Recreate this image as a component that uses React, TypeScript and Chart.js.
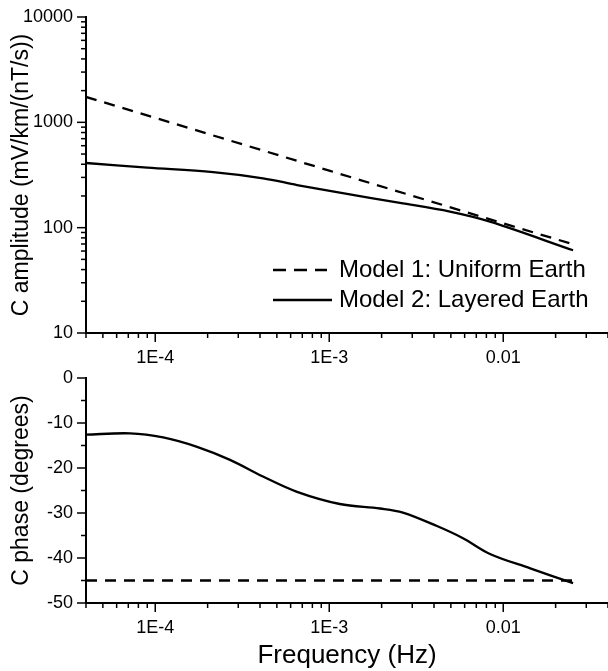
import React, { useEffect, useRef } from 'react';
import { Chart, registerables } from 'chart.js';

Chart.register(...registerables);

const FONT = '"Liberation Sans", Arial, Helvetica, sans-serif';

// ---- Data ----
const uniformFreq = [4e-5, 1e-4, 1e-3, 1e-2, 0.0252];
const uniformAmp = [1742, 1102, 348, 110, 69.5];

const layeredAmpFreq = [4e-5, 9e-5, 2.15e-4, 4.16e-4, 6.53e-4, 1.15e-3, 2.55e-3, 4.94e-3, 8.39e-3, 0.0252];
const layeredAmp = [411, 372, 336, 294, 254, 215, 172, 142, 114, 61];

const uniformPhaseFreq = [4e-5, 0.0252];
const uniformPhase = [-45, -45];

const layeredPhaseFreq = [4e-5, 7.16e-5, 1.11e-4, 1.74e-4, 2.69e-4, 4.16e-4, 6.53e-4, 1.15e-3, 1.96e-3, 2.65e-3, 4.16e-3, 5.87e-3, 8.39e-3, 1.43e-2, 0.0252];
const layeredPhase = [-12.6, -12.3, -13.2, -15.3, -18.2, -21.9, -25.3, -28.0, -29.0, -29.9, -32.9, -35.6, -39.1, -42.3, -45.6];

const seriesLabels = ['Model 1: Uniform Earth', 'Model 2: Layered Earth'];

// ---- Axis ticks ----
const freqMajorTicks = [1e-4, 1e-3, 1e-2];
const freqTickLabels = ['1E-4', '1E-3', '0.01'];
const freqDecades = [1e-5, 1e-4, 1e-3, 1e-2];
const freqMin = 4e-5;
const freqMax = 0.04;

const ampMajorTicks = [10, 100, 1000, 10000];
const ampTickLabels = ['10', '100', '1000', '10000'];
const ampDecades = [10, 100, 1000];

const phaseMajorTicks = [0, -10, -20, -30, -40, -50];
const phaseTickLabels = ['0', '-10', '-20', '-30', '-40', '-50'];
const phaseMinorTicks = [-5, -15, -25, -35, -45];

const near = (a: number, b: number) => Math.abs(a - b) <= Math.abs(b) * 1e-6 + 1e-12;

function logTicks(decades: number[], min: number, max: number) {
  const out: number[] = [];
  decades.forEach((d) => {
    for (let m = 1; m <= 9; m++) {
      const v = d * m;
      if (v >= min * (1 - 1e-9) && v <= max * (1 + 1e-9)) out.push(v);
    }
  });
  if (!out.some((v) => near(v, max))) out.push(max);
  return out;
}

function labelFor(value: number, majors: number[], labels: string[]) {
  const i = majors.findIndex((m) => near(value, m));
  return i >= 0 ? labels[i] : '';
}

function pts(xs: number[], ys: number[]) {
  return xs.map((x, i) => ({ x, y: ys[i] }));
}

const tickMarksPlugin = {
  id: 'tickMarks',
  afterDraw(chart: any) {
    const ctx = chart.ctx;
    const area = chart.chartArea;
    ctx.save();
    ctx.strokeStyle = '#000';
    ctx.lineWidth = 1.5;
    ['x', 'y'].forEach((id) => {
      const s = chart.scales[id];
      const majors: number[] = s.options.majorValues || [];
      s.ticks.forEach((t: any) => {
        const isMajor = majors.some((m) => near(t.value, m));
        const len = isMajor ? 9 : 5;
        const p = s.getPixelForValue(t.value);
        ctx.beginPath();
        if (s.isHorizontal()) {
          ctx.moveTo(p, area.bottom);
          ctx.lineTo(p, area.bottom + len);
        } else {
          ctx.moveTo(area.left, p);
          ctx.lineTo(area.left - len, p);
        }
        ctx.stroke();
      });
    });
    ctx.restore();
  },
};

const legendPlugin = {
  id: 'innerLegend',
  afterDraw(chart: any) {
    const ctx = chart.ctx;
    ctx.save();
    ctx.font = `24px ${FONT}`;
    ctx.fillStyle = '#000';
    ctx.textBaseline = 'middle';
    ctx.textAlign = 'left';
    const rows = [270, 300];
    chart.data.datasets.forEach((ds: any, i: number) => {
      const y = rows[i];
      ctx.beginPath();
      ctx.strokeStyle = ds.borderColor;
      ctx.lineWidth = ds.borderWidth;
      ctx.setLineDash(ds.borderDash && ds.borderDash.length ? [13, 8] : []);
      ctx.moveTo(273, y);
      ctx.lineTo(i === 0 ? 327 : 332, y);
      ctx.stroke();
      ctx.setLineDash([]);
      ctx.fillText(ds.label, 339, y);
    });
    ctx.restore();
  },
};

function freqAxis(height: number, withTitle: boolean) {
  const ticks = logTicks(freqDecades, freqMin, freqMax);
  return {
    type: 'logarithmic',
    min: freqMin,
    max: freqMax,
    majorValues: freqMajorTicks,
    grid: { display: false, drawTicks: false },
    border: { display: true, color: '#000', width: 2 },
    ticks: {
      autoSkip: false,
      maxRotation: 0,
      minRotation: 0,
      padding: 14,
      color: '#000',
      font: { family: FONT, size: 18 },
      callback: (v: any) => labelFor(Number(v), freqMajorTicks, freqTickLabels),
    },
    title: withTitle
      ? { display: true, text: 'Frequency (Hz)', color: '#000', font: { family: FONT, size: 26 }, padding: { top: 0, bottom: 0 } }
      : { display: false },
    afterBuildTicks: (s: any) => {
      s.ticks = ticks.map((v) => ({ value: v }));
    },
    afterFit: (s: any) => {
      s.height = height;
      s.paddingLeft = 0;
      s.paddingRight = 0;
    },
  };
}

function yAxisBase(title: string) {
  return {
    grid: { display: false, drawTicks: false },
    border: { display: true, color: '#000', width: 2 },
    title: { display: true, text: title, color: '#000', font: { family: FONT, size: 23 }, padding: { top: 8, bottom: 0 } },
    afterFit: (s: any) => {
      s.width = 86;
      s.paddingTop = 0;
      s.paddingBottom = 0;
    },
  };
}

const LINE_W = 2.3;

export default function App() {
  const topRef = useRef<HTMLCanvasElement | null>(null);
  const botRef = useRef<HTMLCanvasElement | null>(null);

  useEffect(() => {
    const ampTicks = logTicks(ampDecades, 10, 10000);
    const phaseTicks = [...phaseMajorTicks, ...phaseMinorTicks].sort((a, b) => a - b);

    const top = new Chart(topRef.current as HTMLCanvasElement, {
      type: 'line',
      data: {
        datasets: [
          {
            label: seriesLabels[0],
            data: pts(uniformFreq, uniformAmp),
            borderColor: '#000',
            borderWidth: LINE_W,
            borderDash: [11, 8],
            pointRadius: 0,
            fill: false,
          },
          {
            label: seriesLabels[1],
            data: pts(layeredAmpFreq, layeredAmp),
            borderColor: '#000',
            borderWidth: LINE_W,
            pointRadius: 0,
            fill: false,
            tension: 0.35,
          },
        ],
      } as any,
      options: {
        animation: false,
        responsive: false,
        events: [],
        layout: { padding: { top: 17, left: 0, right: 0, bottom: 0 } },
        plugins: { legend: { display: false }, tooltip: { enabled: false } },
        scales: {
          x: freqAxis(37, false),
          y: {
            ...yAxisBase('C amplitude (mV/km/(nT/s))'),
            type: 'logarithmic',
            min: 10,
            max: 10000,
            majorValues: ampMajorTicks,
            ticks: {
              autoSkip: false,
              padding: 13,
              color: '#000',
              font: { family: FONT, size: 18 },
              callback: (v: any) => labelFor(Number(v), ampMajorTicks, ampTickLabels),
            },
            afterBuildTicks: (s: any) => {
              s.ticks = ampTicks.map((v) => ({ value: v }));
            },
          },
        } as any,
      },
      plugins: [tickMarksPlugin, legendPlugin],
    });

    const bot = new Chart(botRef.current as HTMLCanvasElement, {
      type: 'line',
      data: {
        datasets: [
          {
            label: seriesLabels[0],
            data: pts(uniformPhaseFreq, uniformPhase),
            borderColor: '#000',
            borderWidth: LINE_W,
            borderDash: [11, 8],
            pointRadius: 0,
            fill: false,
          },
          {
            label: seriesLabels[1],
            data: pts(layeredPhaseFreq, layeredPhase),
            borderColor: '#000',
            borderWidth: LINE_W,
            pointRadius: 0,
            fill: false,
            tension: 0.35,
          },
        ],
      } as any,
      options: {
        animation: false,
        responsive: false,
        events: [],
        layout: { padding: { top: 8, left: 0, right: 0, bottom: 0 } },
        plugins: { legend: { display: false }, tooltip: { enabled: false } },
        scales: {
          x: freqAxis(68, true),
          y: {
            ...yAxisBase('C phase (degrees)'),
            type: 'linear',
            min: -50,
            max: 0,
            majorValues: phaseMajorTicks,
            ticks: {
              autoSkip: false,
              padding: 13,
              color: '#000',
              font: { family: FONT, size: 18 },
              callback: (v: any) => labelFor(Number(v), phaseMajorTicks, phaseTickLabels),
            },
            afterBuildTicks: (s: any) => {
              s.ticks = phaseTicks.map((v) => ({ value: v }));
            },
          },
        } as any,
      },
      plugins: [tickMarksPlugin],
    });

    return () => {
      top.destroy();
      bot.destroy();
    };
  }, []);

  return (
    <div style={{ position: 'fixed', left: 0, top: 0, width: 608, height: 671, background: '#fff' }}>
      <canvas ref={topRef} width={608} height={370} style={{ position: 'absolute', left: 0, top: 0, width: 608, height: 370 }} />
      <canvas ref={botRef} width={608} height={301} style={{ position: 'absolute', left: 0, top: 370, width: 608, height: 301 }} />
    </div>
  );
}
